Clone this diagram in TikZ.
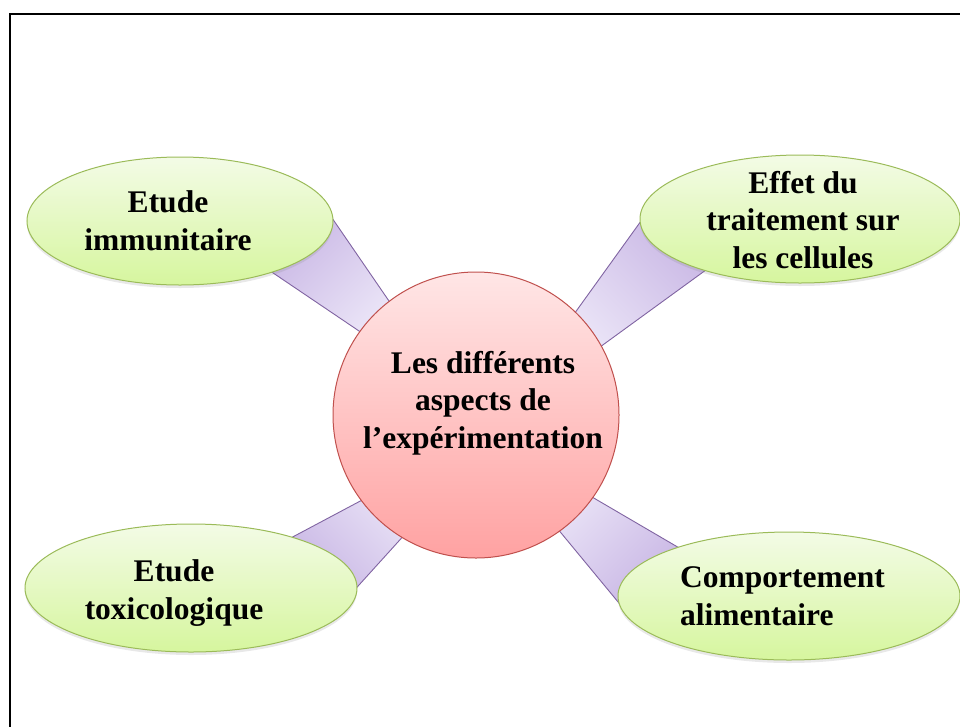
\documentclass[tikz,border=0pt]{standalone}
\usepackage{fontspec}
\setmainfont{Liberation Serif}
\usetikzlibrary{shapes.geometric,calc,shadows,backgrounds}
\definecolor{elltop}{RGB}{243,251,230}
\definecolor{ellbot}{RGB}{214,246,158}
\definecolor{elldraw}{RGB}{155,187,89}
\definecolor{cirtop}{RGB}{255,230,230}
\definecolor{cirbot}{RGB}{255,162,162}
\definecolor{cirdraw}{RGB}{192,80,77}
\definecolor{conlight}{RGB}{240,236,250}
\definecolor{condark}{RGB}{196,176,226}
\definecolor{condraw}{RGB}{128,100,162}
\begin{document}
\begin{tikzpicture}[x=1pt,y=-1pt,
  bubble/.style={ellipse, draw=elldraw, line width=1pt, top color=elltop, bottom color=ellbot,
    inner sep=0pt, minimum height=128pt,
    drop shadow={opacity=0.18, shadow xshift=0pt, shadow yshift=-3pt}},
  hub/.style={circle, draw=cirdraw, line width=1pt, top color=cirtop, bottom color=cirbot,
    inner sep=0pt, minimum size=286pt},
  conn/.style={draw=condraw, line width=0.9pt, top color=condark, bottom color=conlight},
  lbl/.style={font=\bfseries\fontsize{31.5}{37.5}\selectfont, align=center, inner sep=0pt},
  frame/.style={line width=2pt, black}
]
\useasboundingbox (0,0) rectangle (960,726);
\draw[frame] (10,740) -- (10,14) -- (975,14);

\node[hub] (hub) at (476,415) {};
\node[bubble, minimum width=306pt] (e1) at (180,221) {};
\node[bubble, minimum width=320pt] (e2) at (800,219) {};
\node[bubble, minimum width=332pt] (e3) at (191,588) {};
\node[bubble, minimum width=342pt] (e4) at (789,596) {};

\begin{pgfonlayer}{background}
\draw[conn, shading angle=45] ($(hub)+(-63,-79)$) -- ($(e1)+(139,-22)$) -- ($(e1)+(68,35)$) -- ($(hub)+(-77,-57)$) -- cycle;
\draw[conn, shading angle=-45] ($(hub)+(65,-55)$) -- ($(e2)+(-141,-23)$) -- ($(e2)+(-68,32)$) -- ($(hub)+(80,-36)$) -- cycle;
\draw[conn, shading angle=135] ($(hub)+(-63,58)$) -- ($(e3)+(79,-39)$) -- ($(e3)+(149,18)$) -- ($(hub)+(-31,75)$) -- cycle;
\draw[conn, shading angle=-135] ($(hub)+(63,51)$) -- ($(e4)+(-84,-33)$) -- ($(e4)+(-161,18)$) -- ($(hub)+(43,67)$) -- cycle;
\end{pgfonlayer}

\node[lbl] (t0) at (483,403) {Les différents\\aspects de\\l’expérimentation};
\node[lbl] (t1) at (168,221) {Etude\\immunitaire};
\node[lbl] (t2) at (803,220) {Effet du\\traitement sur\\les cellules};
\node[lbl] (t3) at (174,593) {Etude\\toxicologique};
\node[lbl, align=left, anchor=west] (t4) at (680,596) {Comportement\\alimentaire};
\end{tikzpicture}
\end{document}
